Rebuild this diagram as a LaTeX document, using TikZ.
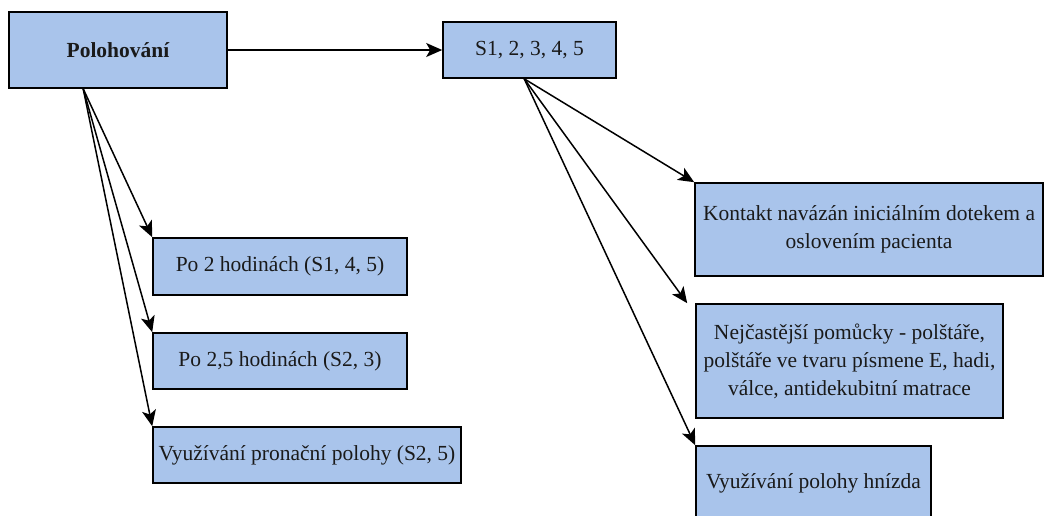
\documentclass[tikz,border=0pt]{standalone}
\usepackage{fontspec}
\setmainfont{Liberation Serif}
\usetikzlibrary{arrows.meta,calc}
\definecolor{boxfill}{HTML}{A9C4EB}
\definecolor{txt}{HTML}{1A1A1A}
\tikzset{
  box/.style={draw=black, fill=boxfill, line width=1.6pt, inner sep=0pt, align=center,
    text=txt, font=\rmfamily\fontsize{21.5}{28}\selectfont},
  conn/.style={line width=1.5pt, -{Stealth[length=16pt,width=14pt,inset=4pt]}}
}
\begin{document}
\begin{tikzpicture}[x=1pt,y=-1pt]
\clip (0,0) rectangle (1046,515);
\fill[white] (0,0) rectangle (1046,515);
\node[box, minimum width=218pt, minimum height=76pt, font=\rmfamily\fontsize{21.5}{28}\selectfont\bfseries] (polo) at (118,50) {Polohování};
\node[box, minimum width=173pt, minimum height=56pt] (s1) at (529.5,50) {S1, 2, 3, 4, 5};
\node[box, minimum width=254pt, minimum height=57pt] (p2) at (280,266.5) {Po 2 hodinách (S1, 4, 5)};
\node[box, minimum width=254pt, minimum height=56pt] (p25) at (280,361) {Po 2,5 hodinách (S2, 3)};
\node[box, minimum width=308pt, minimum height=56pt] (vyu) at (307,455) {Využívání pronační polohy (S2, 5)};
\node[box, minimum width=348pt, minimum height=93pt] (kon) at (869,229.5) {Kontakt navázán iniciálním dotekem a\\oslovením pacienta};
\node[box, minimum width=307pt, minimum height=114pt] (nej) at (849.5,361) {Nejčastější pomůcky - polštáře,\\polštáře ve tvaru písmene E, hadi,\\válce, antidekubitní matrace};
\node[box, minimum width=235pt, minimum height=74pt] (hni) at (813.5,483) {Využívání polohy hnízda};
\coordinate (pa) at ($(polo.south west)+(75,0)$);
\coordinate (sa) at ($(s1.south west)+(82,0)$);
\draw[conn] (polo.east) -- (s1.west);
\draw[conn] (pa) -- (p2.north west);
\draw[conn] (pa) -- (p25.north west);
\draw[conn] (pa) -- (vyu.north west);
\draw[conn] (sa) -- (kon.north west);
\draw[conn] (sa) -- ($(nej.north west)+(-8,0)$);
\draw[conn] (sa) -- (hni.north west);
\end{tikzpicture}
\end{document}
